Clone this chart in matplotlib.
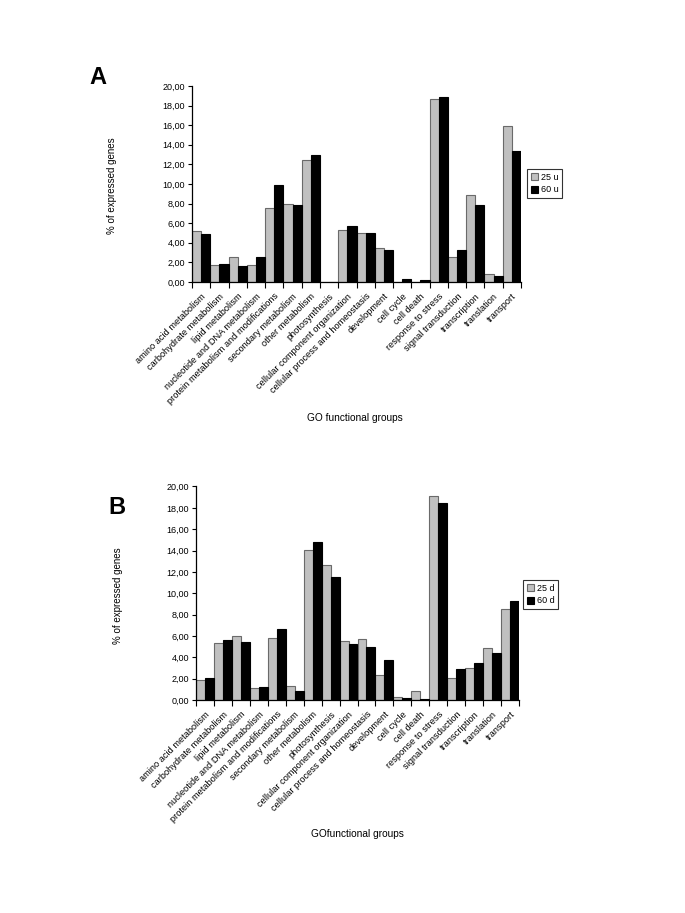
"""Two-panel bar chart: % of expressed genes per GO functional group."""

import matplotlib

matplotlib.use("Agg")
import matplotlib.pyplot as plt  # noqa: E402
import numpy as np  # noqa: E402
from matplotlib.ticker import FuncFormatter  # noqa: E402

plt.rcParams["font.family"] = ["Liberation Sans", "DejaVu Sans"]

CATEGORIES = [
    "amino acid metabolism",
    "carbohydrate metabolism",
    "lipid metabolism",
    "nucleotide and DNA metabolism",
    "protein metabolism and modifications",
    "secondary metabolism",
    "other metabolism",
    "photosynthesis",
    "cellular component organization",
    "cellular process and homeostasis",
    "development",
    "cell cycle",
    "cell death",
    "response to stress",
    "signal transduction",
    "transcription",
    "translation",
    "transport",
]

# Panel A (u)
A_25U = [5.20, 1.75, 2.59, 1.75, 7.58, 7.96, 12.46, 0.0, 5.31, 4.97,
         3.48, 0.0, 0.0, 18.66, 2.57, 8.88, 0.83, 15.96]
A_60U = [4.93, 1.88, 1.65, 2.52, 9.86, 7.85, 12.99, 0.0, 5.75, 5.02,
         3.28, 0.31, 0.18, 18.90, 3.31, 7.86, 0.63, 13.40]

# Panel B (d)
B_25D = [1.84, 5.31, 6.00, 1.16, 5.78, 1.31, 14.06, 12.63, 5.50, 5.69,
         2.31, 0.25, 0.88, 19.10, 2.03, 3.03, 4.88, 8.56]
B_60D = [2.06, 5.63, 5.44, 1.25, 6.69, 0.84, 14.81, 11.50, 5.25, 5.00,
         3.75, 0.16, 0.09, 18.45, 2.88, 3.47, 4.38, 9.28]

W, H = 685, 913
GREY = "#c0c0c0"


def fig_rect(x0, y0, x1, y1):
    # pixel box (top-left origin) -> figure fraction
    return [x0 / W, 1 - y1 / H, (x1 - x0) / W, (y1 - y0) / H]


def panel(fig, rect, s1, s2, labels, leg_xy, letter, letter_xy, ylab_xy, xlab_xy):
    ax = fig.add_axes(fig_rect(*rect))
    n = len(CATEGORIES)
    x = np.arange(n)
    bw = 0.5
    ax.bar(x - bw / 2, s1, width=bw, color=GREY, edgecolor="#6a6a6a",
           linewidth=0.8, label=labels[0])
    ax.bar(x + bw / 2, s2, width=bw, color="black", edgecolor="black",
           linewidth=0.8, label=labels[1])

    ax.set_xlim(-0.5, n - 0.5)
    ax.set_ylim(0, 20)
    ax.set_yticks(np.arange(0, 21, 2))
    ax.yaxis.set_major_formatter(FuncFormatter(lambda v, _: f"{v:.2f}".replace(".", ",")))
    ax.tick_params(axis="y", direction="out", length=3, width=0.8, labelsize=6.5, pad=2)

    ax.set_xticks(x)
    ax.set_xticklabels(CATEGORIES, rotation=45, ha="right", rotation_mode="anchor",
                       fontsize=6.7)
    ax.set_xticks(np.arange(-0.5, n, 1.0), minor=True)
    ax.tick_params(axis="x", which="major", length=0, pad=7)
    ax.tick_params(axis="x", which="minor", direction="out", length=4, width=0.8)

    for side in ("top", "right"):
        ax.spines[side].set_visible(False)
    for side in ("left", "bottom"):
        ax.spines[side].set_linewidth(0.9)

    leg = ax.legend(loc="upper left", bbox_to_anchor=(leg_xy[0] / W, 1 - leg_xy[1] / H),
                    bbox_transform=fig.transFigure, fontsize=6.5, frameon=True,
                    fancybox=False, handlelength=0.8, handleheight=0.8,
                    handletextpad=0.3, borderpad=0.4, labelspacing=0.4,
                    borderaxespad=0)
    leg.get_frame().set_edgecolor("black")
    leg.get_frame().set_linewidth(0.8)

    fig.text(letter_xy[0] / W, 1 - letter_xy[1] / H, letter, fontsize=17,
             fontweight="bold", ha="center", va="center")
    fig.text(ylab_xy[0] / W, 1 - ylab_xy[1] / H, "% of expressed genes", fontsize=7,
             rotation=90, ha="center", va="center")
    fig.text(xlab_xy[0] / W, 1 - xlab_xy[1] / H, xlab_xy[2], fontsize=7.3,
             ha="center", va="center")
    return ax


def main():
    fig = plt.figure(figsize=(W / 100, H / 100), dpi=100)
    panel(fig, (192, 86, 521, 282), A_25U, A_60U, ("25 u", "60 u"),
          (527, 169), "A", (98, 78), (112, 186), (355, 418, "GO functional groups"))
    panel(fig, (196, 486.5, 519, 700), B_25D, B_60D, ("25 d", "60 d"),
          (523, 580), "B", (117, 507), (118, 596), (357, 834, "GOfunctional groups"))
    fig.savefig("out.png", dpi=100)


if __name__ == "__main__":
    main()
